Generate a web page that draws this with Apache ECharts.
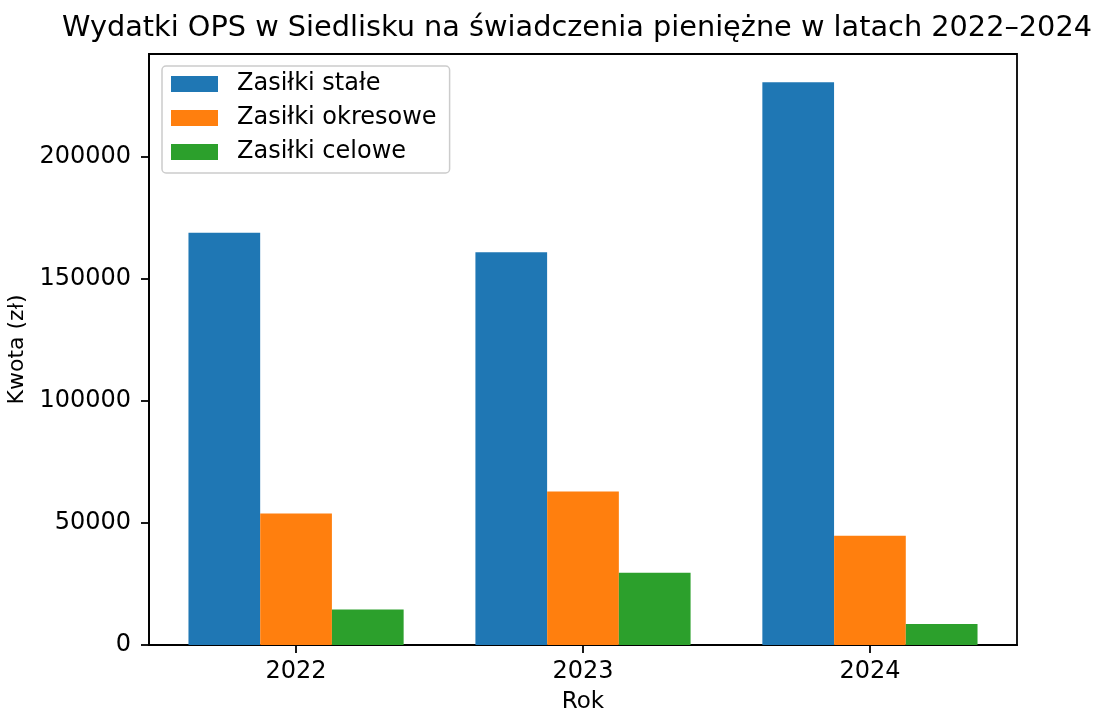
<!DOCTYPE html>
<html>
<head>
<meta charset="utf-8">
<script src="https://cdn.jsdelivr.net/npm/echarts@6/dist/echarts.min.js"></script>
<style>
  html, body { margin: 0; padding: 0; background: #fff; }
  #chart { width: 1104px; height: 711px; }
</style>
</head>
<body>
<div id="chart"></div>
<script>
// data
const years = ['2022', '2023', '2024'];
const seriesNames = ['Zasiłki stałe', 'Zasiłki okresowe', 'Zasiłki celowe'];
const staleValues = [168800, 160800, 230500];
const okresoweValues = [53900, 62900, 44700];
const celoweValues = [14500, 29600, 8600];
const yTicks = [0, 50000, 100000, 150000, 200000];

const colors = ['#1f77b4', '#ff7f0e', '#2ca02c'];
const font = 'DejaVu Sans';
const barW = 0.25;

// bars sit at year index + offset, like grouped bars in pyplot
const toPoints = (values, offset) => values.map((v, i) => [i + offset, v]);

const allValues = [staleValues, okresoweValues, celoweValues];
const offsets = [-barW, 0, barW];

const chart = echarts.init(document.getElementById('chart'));

const option = {
  animation: false,
  backgroundColor: '#fff',
  textStyle: { fontFamily: font, color: '#000' },
  title: {
    text: 'Wydatki OPS w Siedlisku na świadczenia pieniężne w latach 2022–2024',
    left: 62,
    top: 14,
    padding: 0,
    textStyle: { fontFamily: font, fontSize: 28.75, fontWeight: 'normal', color: '#000' },
  },
  legend: {
    orient: 'vertical',
    left: 162,
    top: 66,
    itemWidth: 47,
    itemHeight: 16,
    itemGap: 10,
    icon: 'rect',
    padding: [6, 13, 9, 9],
    backgroundColor: 'rgba(255,255,255,0.8)',
    borderColor: '#cccccc',
    borderWidth: 1.5,
    borderRadius: 4,
    textStyle: { fontFamily: font, fontSize: 24, color: '#000', lineHeight: 24, padding: [0, 0, 0, 14] },
    data: seriesNames,
  },
  grid: {
    left: 149,
    right: 87,
    top: 54,
    bottom: 66,
    outerBoundsMode: 'none',
    containLabel: false,
    show: true,
    borderColor: '#000',
    borderWidth: 1.8,
    backgroundColor: 'transparent',
  },
  xAxis: {
    type: 'value',
    min: -0.5125,
    max: 2.5125,
    name: 'Rok',
    nameLocation: 'middle',
    nameGap: 46,
    nameTextStyle: { fontFamily: font, fontSize: 23, color: '#000' },
    splitLine: { show: false },
    axisLine: { show: true, onZero: false, lineStyle: { color: '#000', width: 1.8 } },
    axisTick: { show: true, length: 8, lineStyle: { color: '#000', width: 1.8 }, customValues: [0, 1, 2] },
    axisLabel: {
      fontFamily: font,
      fontSize: 24,
      color: '#000',
      margin: 15,
      customValues: [0, 1, 2],
      formatter: (v) => years[Math.round(v)],
    },
  },
  yAxis: {
    type: 'value',
    min: 0,
    max: Math.max(...staleValues) * 1.05,
    name: 'Kwota (zł)',
    nameLocation: 'middle',
    nameGap: 121,
    nameTextStyle: { fontFamily: font, fontSize: 22, color: '#000' },
    splitLine: { show: false },
    axisLine: { show: true, onZero: false, lineStyle: { color: '#000', width: 1.8 } },
    axisTick: { show: true, length: 8, lineStyle: { color: '#000', width: 1.8 }, customValues: yTicks },
    axisLabel: {
      fontFamily: font,
      fontSize: 24,
      color: '#000',
      margin: 18,
      customValues: yTicks,
      formatter: (v) => String(v),
    },
  },
  series: seriesNames.map((name, k) => ({
    name,
    type: 'bar',
    barWidth: 71.7,
    barGap: '-100%',
    itemStyle: { color: colors[k] },
    data: toPoints(allValues[k], offsets[k]),
  })),
};

chart.setOption(option);
</script>
</body>
</html>
